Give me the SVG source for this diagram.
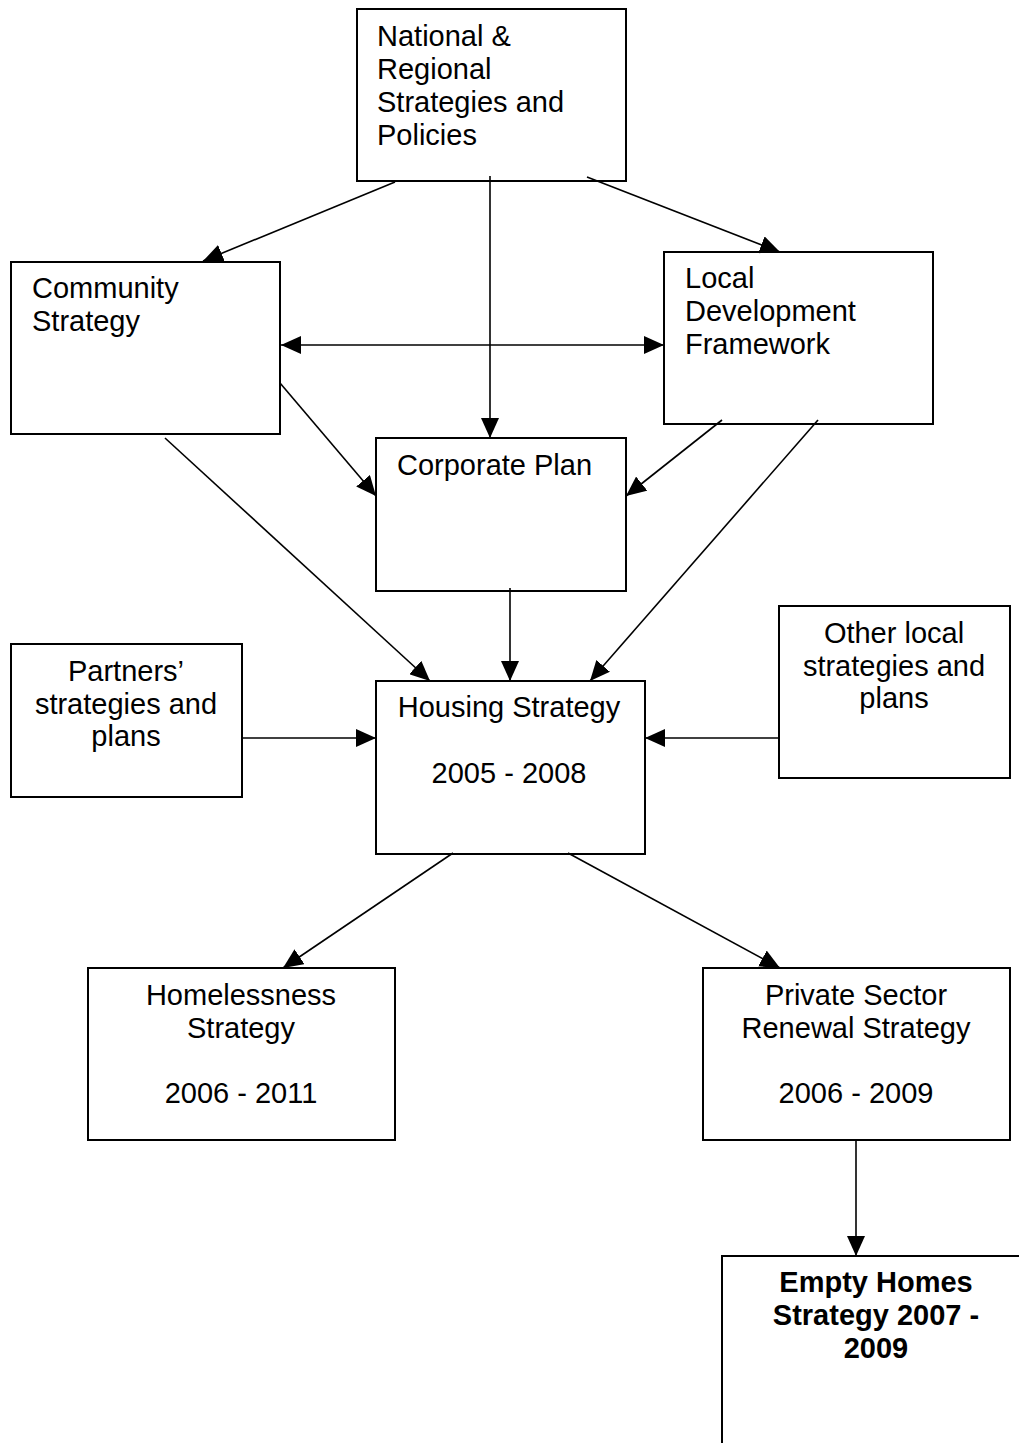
<svg xmlns="http://www.w3.org/2000/svg" width="1019" height="1443" viewBox="0 0 1019 1443">
<style>
.box{fill:#fff;stroke:#000;stroke-width:2}
.t{font-family:"Liberation Sans",Arial,sans-serif;font-size:29px;fill:#000}
.c{text-anchor:middle}
.b{font-weight:bold}
.ln{stroke:#000;stroke-width:1.6;fill:none;marker-end:url(#ah)}
</style>
<defs>
<marker id="ah" markerUnits="userSpaceOnUse" markerWidth="20" markerHeight="18" refX="20" refY="9" orient="auto-start-reverse" viewBox="0 0 20 18">
<path d="M0,0 L20,9 L0,18 z" fill="#000"/>
</marker>
</defs>
<rect width="1019" height="1443" fill="#fff"/>
<g id="national">
<rect class="box" x="357" y="9" width="269" height="172"/>
<text class="t" x="377" y="46">National &amp;</text>
<text class="t" x="377" y="79">Regional</text>
<text class="t" x="377" y="112">Strategies and</text>
<text class="t" x="377" y="145">Policies</text>
</g>
<g id="community">
<rect class="box" x="11" y="262" width="269" height="172"/>
<text class="t" x="32" y="298">Community</text>
<text class="t" x="32" y="331">Strategy</text>
</g>
<g id="ldf">
<rect class="box" x="664" y="252" width="269" height="172"/>
<text class="t" x="685" y="288">Local</text>
<text class="t" x="685" y="321">Development</text>
<text class="t" x="685" y="354">Framework</text>
</g>
<g id="corporate">
<rect class="box" x="376" y="438" width="250" height="153"/>
<text class="t" x="397" y="475">Corporate Plan</text>
</g>
<g id="partners">
<rect class="box" x="11" y="644" width="231" height="153"/>
<text class="t c" x="126" y="681">Partners’</text>
<text class="t c" x="126" y="714">strategies and</text>
<text class="t c" x="126" y="746">plans</text>
</g>
<g id="housing">
<rect class="box" x="376" y="681" width="269" height="173"/>
<text class="t c" x="509" y="717">Housing Strategy</text>
<text class="t c" x="509" y="783">2005 - 2008</text>
</g>
<g id="other">
<rect class="box" x="779" y="606" width="231" height="172"/>
<text class="t c" x="894" y="643">Other local</text>
<text class="t c" x="894" y="676">strategies and</text>
<text class="t c" x="894" y="708">plans</text>
</g>
<g id="homelessness">
<rect class="box" x="88" y="968" width="307" height="172"/>
<text class="t c" x="241" y="1005">Homelessness</text>
<text class="t c" x="241" y="1038">Strategy</text>
<text class="t c" x="241" y="1103">2006 - 2011</text>
</g>
<g id="private">
<rect class="box" x="703" y="968" width="307" height="172"/>
<text class="t c" x="856" y="1005">Private Sector</text>
<text class="t c" x="856" y="1038">Renewal Strategy</text>
<text class="t c" x="856" y="1103">2006 - 2009</text>
</g>
<g id="empty">
<path d="M722,1443 L722,1256 L1021,1256" fill="#fff" stroke="#000" stroke-width="2"/>
<text class="t c b" x="876" y="1292">Empty Homes</text>
<text class="t c b" x="876" y="1325">Strategy 2007 -</text>
<text class="t c b" x="876" y="1358">2009</text>
</g>
<g id="connectors">
<line class="ln" x1="395" y1="182" x2="203" y2="261"/>
<line class="ln" x1="490" y1="176" x2="490" y2="438"/>
<line class="ln" x1="587" y1="177" x2="780" y2="252"/>
<line class="ln" x1="281" y1="345" x2="664" y2="345" style="marker-start:url(#ah)"/>
<line class="ln" x1="280" y1="383" x2="376" y2="496"/>
<line class="ln" x1="722" y1="420" x2="626" y2="496"/>
<line class="ln" x1="165" y1="438" x2="430" y2="681"/>
<line class="ln" x1="818" y1="420" x2="590" y2="681"/>
<line class="ln" x1="510" y1="588" x2="510" y2="681"/>
<line class="ln" x1="242" y1="738" x2="376" y2="738"/>
<line class="ln" x1="779" y1="738" x2="645" y2="738"/>
<line class="ln" x1="453" y1="853" x2="283" y2="968"/>
<line class="ln" x1="568" y1="853" x2="780" y2="968"/>
<line class="ln" x1="856" y1="1140" x2="856" y2="1256"/>
</g>
</svg>
